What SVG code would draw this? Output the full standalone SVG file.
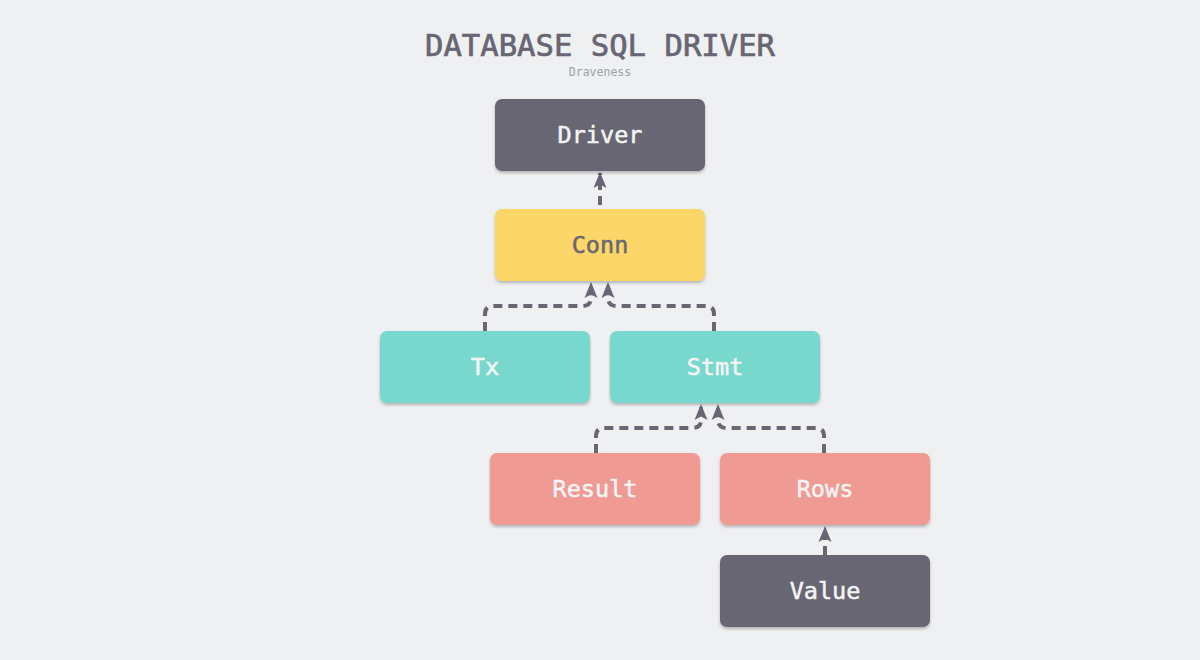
<svg xmlns="http://www.w3.org/2000/svg" width="1200" height="660" viewBox="0 0 1200 660">
<defs>
<filter id="sh" x="-10%" y="-10%" width="120%" height="130%">
<feDropShadow dx="0" dy="2" stdDeviation="1.5" flood-color="#000" flood-opacity="0.25"/>
</filter>
<marker id="ah" markerUnits="userSpaceOnUse" markerWidth="18" markerHeight="16" viewBox="0 0 18 16" refX="16" refY="8" orient="auto">
<path d="M17,8 L1,1.5 L4.5,8 L1,14.5 Z" fill="#686672"/>
</marker>
<style>
.node{filter:url(#sh)}
.lbl{font-family:"DejaVu Sans Mono","Liberation Mono",monospace;font-size:23.5px;text-anchor:middle;dominant-baseline:central;stroke-width:0.5}
.edge{fill:none;stroke:#686672;stroke-width:4;stroke-dasharray:9 6}
</style>
</defs>
<rect width="1200" height="660" fill="#eff0f2"/>
<text x="600" y="56" font-family="DejaVu Sans Mono,Liberation Mono,monospace" font-size="30.6" fill="#686672" stroke="#686672" stroke-width="0.7" text-anchor="middle">DATABASE SQL DRIVER</text>
<text x="600" y="76" font-family="DejaVu Sans Mono,Liberation Mono,monospace" font-size="11.5" fill="#9aa3aa" text-anchor="middle">Draveness</text>

<g id="connectors">
<path class="edge" d="M600,205 V173" marker-end="url(#ah)"/>
<path class="edge" d="M485,331 V314 Q485,306 493,306 H582 Q591,306 591,298 V283" marker-end="url(#ah)"/>
<path class="edge" d="M714,331 V314 Q714,306 706,306 H617 Q608,306 608,298 V283" marker-end="url(#ah)"/>
<path class="edge" d="M596,453 V436 Q596,428 604,428 H692 Q701,428 701,420 V405" marker-end="url(#ah)"/>
<path class="edge" d="M824,453 V436 Q824,428 816,428 H727 Q718,428 718,420 V405" marker-end="url(#ah)"/>
<path class="edge" d="M825,555 V527" marker-end="url(#ah)"/>
</g>

<g id="driver"><rect class="node" x="495" y="99" width="210" height="72" rx="7" fill="#686672"/><text class="lbl" x="600" y="135" fill="#f4f4f4" stroke="#f4f4f4">Driver</text></g>
<g id="conn"><rect class="node" x="495" y="209" width="210" height="72" rx="7" fill="#fcd667"/><text class="lbl" x="600" y="245" fill="#686672" stroke="#686672">Conn</text></g>
<g id="tx"><rect class="node" x="380" y="331" width="210" height="72" rx="7" fill="#79d8cd"/><text class="lbl" x="485" y="367" fill="#f4f4f4" stroke="#f4f4f4">Tx</text></g>
<g id="stmt"><rect class="node" x="610" y="331" width="210" height="72" rx="7" fill="#79d8cd"/><text class="lbl" x="715" y="367" fill="#f4f4f4" stroke="#f4f4f4">Stmt</text></g>
<g id="result"><rect class="node" x="490" y="453" width="210" height="72" rx="7" fill="#f09a94"/><text class="lbl" x="595" y="489" fill="#f4f4f4" stroke="#f4f4f4">Result</text></g>
<g id="rows"><rect class="node" x="720" y="453" width="210" height="72" rx="7" fill="#f09a94"/><text class="lbl" x="825" y="489" fill="#f4f4f4" stroke="#f4f4f4">Rows</text></g>
<g id="value"><rect class="node" x="720" y="555" width="210" height="72" rx="7" fill="#686672"/><text class="lbl" x="825" y="591" fill="#f4f4f4" stroke="#f4f4f4">Value</text></g>
</svg>
